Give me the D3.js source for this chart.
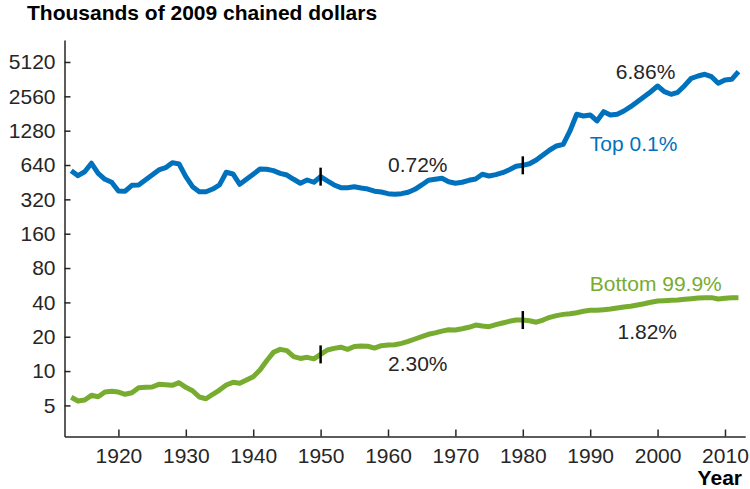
<!doctype html>
<html>
<head>
<meta charset="utf-8">
<style>
  body { margin: 0; background: #fff; }
  svg text { font-family: "Liberation Sans", Arial, sans-serif; }
</style>
<script src="https://d3js.org/d3.v7.min.js"></script>
</head>
<body>
<svg width="750" height="489"></svg>
<script>
// years 1913..2012
var years = d3.range(1913, 2013);

// Top 0.1%, thousands of 2009 chained dollars
var top01 = [571, 516, 559, 663, 541, 480, 452, 379, 377, 425,
             428, 473, 523, 579, 606, 671, 653, 506, 413, 373,
             373, 394, 428, 553, 534, 434, 480, 531, 590, 587,
             571, 541, 523, 480, 443, 473, 452, 506, 464, 428,
             405, 405, 413, 402, 394, 377, 371, 359, 354, 359,
             369, 392, 428, 470, 480, 490, 457, 443, 452, 470,
             483, 531, 513, 527, 548, 582, 624, 636, 656, 708,
             784, 867, 940, 972, 1272, 1782, 1721, 1757, 1557, 1878,
             1757, 1782, 1904, 2077, 2298, 2541, 2811, 3154, 2811, 2668,
             2778, 3174, 3684, 3859, 3995, 3806, 3331, 3561, 3611, 4210];

// Bottom 99.9%
var bottom999 = [5.89, 5.46, 5.58, 6.13, 5.96, 6.55, 6.64, 6.55, 6.26, 6.46,
                 7.15, 7.20, 7.25, 7.65, 7.59, 7.50, 7.91, 7.20, 6.73, 5.92,
                 5.72, 6.26, 6.82, 7.55, 7.97, 7.81, 8.35, 8.92, 10.2, 12.3,
                 14.6, 15.5, 15.1, 13.4, 12.9, 13.2, 12.8, 14.0, 15.3, 15.8,
                 16.2, 15.5, 16.4, 16.6, 16.5, 15.9, 16.7, 16.9, 17.0, 17.5,
                 18.2, 19.1, 20.0, 21.0, 21.6, 22.4, 23.0, 22.9, 23.5, 24.2,
                 25.3, 24.8, 24.5, 25.5, 26.4, 27.3, 28.0, 28.0, 27.6, 26.8,
                 28.0, 29.6, 30.6, 31.4, 31.8, 32.5, 33.4, 34.1, 34.1, 34.5,
                 35.0, 35.7, 36.4, 37.0, 37.9, 38.9, 40.1, 41.1, 41.4, 41.7,
                 42.0, 42.6, 43.1, 43.7, 44.0, 44.0, 42.8, 43.4, 44.0, 44.0];

var yTicks = [5, 10, 20, 40, 80, 160, 320, 640, 1280, 2560, 5120];
var xTicks = [1920, 1930, 1940, 1950, 1960, 1970, 1980, 1990, 2000, 2010];
var breakYears = [1950, 1980];

// growth-rate labels and series names (year, value = text anchor)
var labels = [
  { text: "0.72%", year: 1960, value: 559, color: "#262626" },
  { text: "6.86%", year: 1993.8, value: 3611, color: "#262626" },
  { text: "Top 0.1%", year: 1989.95, value: 849, color: "#0072BD" },
  { text: "Bottom 99.9%", year: 1989.95, value: 50.6, color: "#77AC30" },
  { text: "1.82%", year: 1994.05, value: 19.0, color: "#262626" },
  { text: "2.30%", year: 1960, value: 10.07, color: "#262626" }
];

var svg = d3.select("svg");

var x = d3.scaleLinear().domain([1912, 2013]).range([64.5, 745.2]);
var y = d3.scaleLog().base(2).domain([2.67, 7980]).range([436.5, 40]);

// x axis
var xAxis = svg.append("g")
  .attr("transform", "translate(0," + y.range()[0] + ")")
  .call(d3.axisBottom(x).tickValues(xTicks).tickFormat(d3.format("d"))
        .tickSizeInner(-7).tickSizeOuter(0).tickPadding(12));
xAxis.selectAll("text").attr("font-size", "21px").attr("fill", "#262626")
  .style("font-family", "'Liberation Sans', Arial, sans-serif");
xAxis.selectAll("line, path").attr("stroke", "#262626").attr("stroke-width", 1.5);

// y axis
var yAxis = svg.append("g")
  .attr("transform", "translate(" + x.range()[0] + ",0)")
  .call(d3.axisLeft(y).tickValues(yTicks).tickFormat(d3.format("d"))
        .tickSizeInner(-6).tickSizeOuter(0).tickPadding(9));
yAxis.selectAll("text").attr("font-size", "21px").attr("fill", "#262626")
  .style("font-family", "'Liberation Sans', Arial, sans-serif");
yAxis.selectAll("line, path").attr("stroke", "#262626").attr("stroke-width", 1.5);

// lines
var line = d3.line()
  .x(function(d) { return x(d[0]); })
  .y(function(d) { return y(d[1]); });

var series = [
  { values: top01, color: "#0072BD" },
  { values: bottom999, color: "#77AC30" }
];

series.forEach(function(s) {
  var pts = years.map(function(yr, i) { return [yr, s.values[i]]; });
  svg.append("path")
    .datum(pts)
    .attr("fill", "none")
    .attr("stroke", s.color)
    .attr("stroke-width", 5)
    .attr("stroke-linejoin", "round")
    .attr("d", line);

  breakYears.forEach(function(b) {
    var v = s.values[years.indexOf(b)];
    svg.append("line")
      .attr("x1", x(b)).attr("x2", x(b))
      .attr("y1", y(v) - 9).attr("y2", y(v) + 9)
      .attr("stroke", "#000")
      .attr("stroke-width", 2.5);
  });
});

// labels
svg.selectAll(".lbl")
  .data(labels)
  .enter().append("text")
  .attr("class", "lbl")
  .attr("x", function(d) { return x(d.year); })
  .attr("y", function(d) { return y(d.value); })
  .attr("font-size", "21px")
  .attr("fill", function(d) { return d.color; })
  .text(function(d) { return d.text; });

// title
svg.append("text")
  .attr("x", 27)
  .attr("y", 20)
  .attr("font-size", "21px")
  .attr("font-weight", "bold")
  .attr("fill", "#000")
  .text("Thousands of 2009 chained dollars");

svg.append("text")
  .attr("x", 742)
  .attr("y", 485)
  .attr("text-anchor", "end")
  .attr("font-size", "21px")
  .attr("font-weight", "bold")
  .attr("fill", "#000")
  .text("Year");
</script>
</body>
</html>
